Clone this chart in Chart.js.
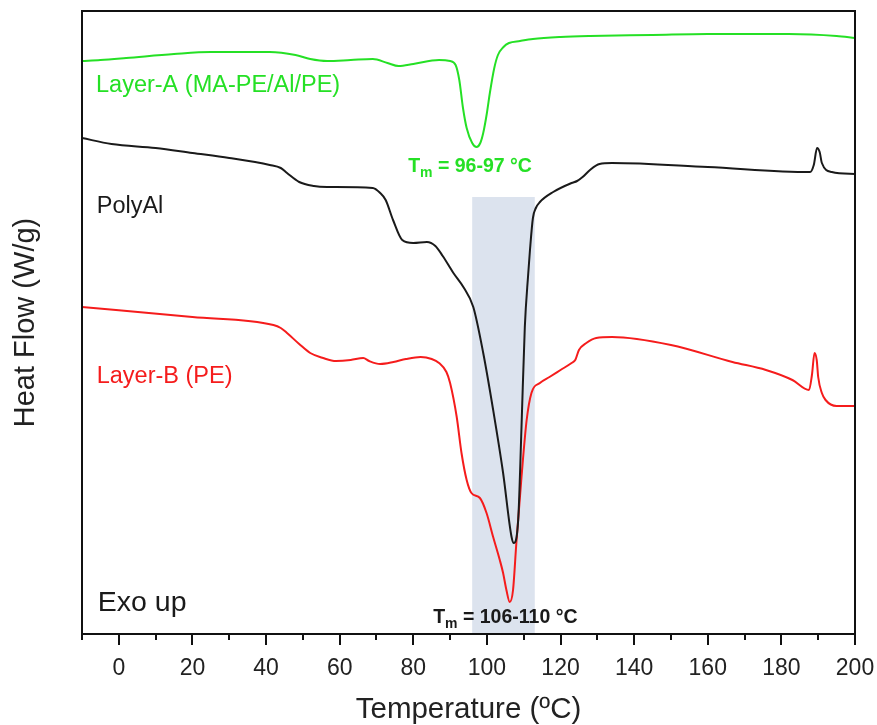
<!DOCTYPE html>
<html lang="en">
<head>
  <meta charset="UTF-8">
  <title>DSC Heat Flow</title>
  <script src="https://cdn.jsdelivr.net/npm/chart.js"></script>
  <style>
    html, body { margin: 0; padding: 0; background: #fff; }
    #wrap { width: 877px; height: 725px; }
  </style>
</head>
<body>
  <div id="wrap"><canvas id="dscChart"></canvas></div>
  <script>
    // temperature in °C, heat flow in arbitrary units (curves offset)
    const layerATemp = [-10, -5, 2, 15, 25, 41, 48, 52, 56.6, 63, 69, 73, 76, 80, 87, 90, 91.5, 92.5, 93.5, 94.5, 96, 97.2, 98.2, 99, 100, 100.8, 102, 103, 104.5, 106, 109, 112.5, 120, 128, 145, 160, 182, 195, 200];
    const layerAFlow = [573, 574, 576, 580, 582, 582, 579, 575, 573, 574, 575, 571, 568, 570, 574, 573, 569, 554, 526, 506, 491, 487, 491, 501, 521, 541, 566, 579, 587, 591, 593, 595, 597, 598, 599, 600, 600, 598, 596];

    const polyAlTemp = [-10, -2, 10, 20, 30, 41, 44, 45.7, 49, 53, 56.6, 69, 71, 72.5, 74.5, 77, 80, 83.7, 86, 88, 90.9, 93.6, 96.3, 99, 101.7, 104.4, 106.7, 107.3, 108.5, 109.4, 110.3, 111.2, 111.7, 112.5, 113.3, 114.4, 118, 123, 124.5, 126, 128, 130.6, 134, 160, 187.8, 188.8, 189.7, 190.4, 191, 193.7, 200];
    const polyAlFlow = [496, 490, 486, 481, 476, 469, 466, 461, 452, 448, 447, 446, 441, 434, 414, 394, 391, 392, 388, 378, 361, 347, 327, 281, 224, 161, 97, 91, 114, 207, 307, 359, 384, 416, 426, 432, 442, 451, 453, 457, 464, 470, 471, 467, 462, 469, 486, 482, 471, 462, 460];

    const layerBTemp = [-10, 20, 42, 44, 45.7, 49, 52, 55.5, 59, 63, 66.4, 68, 71, 74.6, 78, 82, 85, 87, 89, 90, 91.8, 93.1, 94.5, 95.8, 98.1, 99.9, 101.7, 103.5, 104.4, 105.3, 106.2, 107.1, 108, 109.4, 110.8, 112.1, 114.4, 117, 120, 123, 124, 125, 127, 129.7, 134, 150, 166.7, 175.8, 183, 187.5, 188.3, 189, 189.6, 190, 191, 192, 195, 200];
    const layerBFlow = [327, 317, 309, 306, 301, 290, 281, 276, 273, 274, 276, 273, 270, 272, 275, 277, 275, 271, 262, 251, 217, 181, 154, 141, 136, 121, 97, 74, 61, 44, 32, 44, 91, 157, 214, 241, 251, 257, 264, 271, 274, 284, 291, 296, 297, 289, 272, 264, 254, 244, 259, 281, 274, 257, 241, 234, 228, 228];

    // melting range band: from, to (°C), top (flow units)
    const meltBand = [96, 113, 437];

    const green = '#25e025';
    const red = '#f51c1c';
    const black = '#1a1a1a';
    const fontFam = 'Arial, "Liberation Sans", sans-serif';

    function pts(xs, ys) {
      return xs.map((x, i) => ({ x: x, y: ys[i] }));
    }

    const notes = [
      { text: 'Layer-A (MA-PE/Al/PE)', x: -6.2, y: 548, color: green, size: 23.5 },
      { text: 'PolyAl', x: -6, y: 427, color: black, size: 23.5 },
      { text: 'Layer-B (PE)', x: -6, y: 257, color: red, size: 23.5 },
      { text: 'Exo up', x: -5.7, y: 31, color: black, size: 28.5 },
      { sub: true, text: ' = 96-97 °C', x: 78.6, y: 467, color: green, size: 19.5 },
      { sub: true, text: ' = 106-110 °C', x: 85.4, y: 16, color: black, size: 19.5 }
    ];

    const decor = {
      id: 'decor',
      beforeDatasetsDraw(chart) {
        const { ctx, scales: { x, y } } = chart;
        const x0 = x.getPixelForValue(meltBand[0]);
        const x1 = x.getPixelForValue(meltBand[1]);
        const yt = y.getPixelForValue(meltBand[2]);
        ctx.save();
        ctx.fillStyle = '#dce3ee';
        ctx.fillRect(x0, yt, x1 - x0, chart.chartArea.bottom - yt);
        ctx.restore();
      },
      afterDraw(chart) {
        const { ctx, chartArea: a, scales: { x, y } } = chart;
        ctx.save();
        ctx.strokeStyle = '#111';
        ctx.lineWidth = 2;
        ctx.strokeRect(a.left, a.top, a.right - a.left, a.bottom - a.top);
        // ticks below the axis
        ctx.beginPath();
        for (let v = -10; v <= 200; v += 10) {
          const px = Math.round(x.getPixelForValue(v));
          const len = v % 20 === 0 ? 11 : 6;
          ctx.moveTo(px, a.bottom);
          ctx.lineTo(px, a.bottom + len);
        }
        ctx.stroke();

        ctx.textBaseline = 'middle';
        ctx.textAlign = 'left';
        notes.forEach(n => {
          let px = x.getPixelForValue(n.x);
          const py = y.getPixelForValue(n.y);
          ctx.fillStyle = n.color;
          if (n.sub) {
            ctx.font = 'bold ' + n.size + 'px ' + fontFam;
            ctx.fillText('T', px, py);
            px += ctx.measureText('T').width;
            ctx.font = 'bold ' + Math.round(n.size * 0.7) + 'px ' + fontFam;
            ctx.fillText('m', px, py + n.size * 0.3);
            px += ctx.measureText('m').width;
            ctx.font = 'bold ' + n.size + 'px ' + fontFam;
            ctx.fillText(n.text, px, py);
          } else {
            ctx.font = n.size + 'px ' + fontFam;
            ctx.fillText(n.text, px, py);
          }
        });
        ctx.restore();
      }
    };

    const line = (label, data, color) => ({
      label: label,
      data: data,
      borderColor: color,
      borderWidth: 2,
      pointRadius: 0,
      fill: false,
      cubicInterpolationMode: 'monotone'
    });

    new Chart(document.getElementById('dscChart'), {
      type: 'line',
      data: {
        datasets: [
          line('Layer-A (MA-PE/Al/PE)', pts(layerATemp, layerAFlow), green),
          line('PolyAl', pts(polyAlTemp, polyAlFlow), black),
          line('Layer-B (PE)', pts(layerBTemp, layerBFlow), red)
        ]
      },
      options: {
        responsive: true,
        maintainAspectRatio: false,
        animation: false,
        layout: { padding: { top: 11, right: 22, left: 0, bottom: 0 } },
        plugins: {
          legend: { display: false },
          tooltip: { enabled: false }
        },
        scales: {
          x: {
            type: 'linear',
            min: -10,
            max: 200,
            grid: { color: 'transparent', tickColor: 'transparent', tickLength: 11 },
            border: { display: false },
            ticks: {
              stepSize: 10,
              autoSkip: false,
              maxRotation: 0,
              padding: 10,
              color: '#222',
              font: { size: 23, family: fontFam },
              callback: v => (v % 20 === 0 ? v : '')
            },
            title: {
              display: true,
              text: 'Temperature (ºC)',
              color: '#222',
              font: { size: 29.5, family: fontFam, lineHeight: 1 },
              padding: { top: 0, bottom: 0 }
            },
            afterFit: s => { s.height = 91; s.paddingLeft = 0; s.paddingRight = 0; }
          },
          y: {
            min: 0,
            max: 623,
            grid: { display: false },
            border: { display: false },
            ticks: { display: false },
            title: {
              display: true,
              text: 'Heat Flow (W/g)',
              color: '#222',
              font: { size: 29, family: fontFam, lineHeight: 1 },
              padding: { top: 11, bottom: 0 }
            },
            afterFit: s => { s.width = 82; }
          }
        }
      },
      plugins: [decor]
    });
  </script>
</body>
</html>
